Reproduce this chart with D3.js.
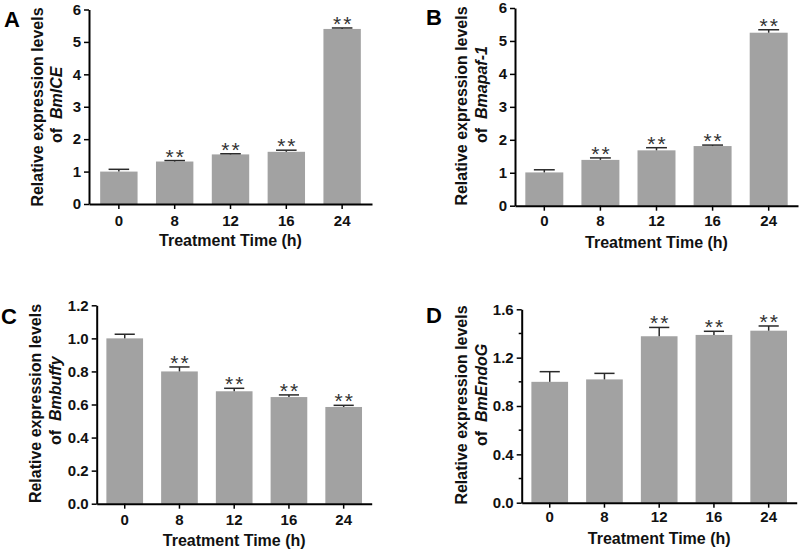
<!DOCTYPE html>
<html>
<head>
<meta charset="utf-8">
<script src="https://cdn.jsdelivr.net/npm/d3@7"></script>
<style>
  html, body { margin: 0; padding: 0; background: #fff; }
  svg { display: block; }
  text { font-family: "Liberation Sans", Arial, sans-serif; }
</style>
</head>
<body>
<svg id="chart" width="800" height="552"></svg>
<script>
// ---------------- DATA ----------------
const categories = ["0", "8", "12", "16", "24"];

const meanA = [1.00, 1.31, 1.53, 1.61, 5.40];
const errA  = [0.07, 0.03, 0.02, 0.05, 0.03];
const sigA  = [false, true, true, true, true];

const meanB = [1.01, 1.39, 1.68, 1.81, 5.25];
const errB  = [0.08, 0.06, 0.08, 0.03, 0.09];
const sigB  = [false, true, true, true, true];

const meanC = [1.00, 0.80, 0.68, 0.645, 0.585];
const errC  = [0.025, 0.027, 0.018, 0.013, 0.010];
const sigC  = [false, true, true, true, true];

const meanD = [1.00, 1.02, 1.377, 1.388, 1.423];
const errD  = [0.084, 0.050, 0.073, 0.030, 0.039];
const sigD  = [false, false, true, true, true];

const yTicksA = [0, 1, 2, 3, 4, 5, 6];
const yTicksB = [0, 1, 2, 3, 4, 5, 6];
const yTicksC = [0.0, 0.2, 0.4, 0.6, 0.8, 1.0, 1.2];
const yTicksD = [0.0, 0.4, 0.8, 1.2, 1.6];
const yMinorD = [0.2, 0.6, 1.0, 1.4];

const panelLetters = ["A", "B", "C", "D"];
const genes = ["BmICE", "Bmapaf-1", "Bmbuffy", "BmEndoG"];
const yTitleLine1 = "Relative expression levels";
const yTitlePrefix = "of  ";
const xTitle = "Treatment Time (h)";
const sigMark = "**";

// ---------------- LAYOUT ----------------
const panels = [
  { mean: meanA, err: errA, sig: sigA, ticks: yTicksA, minor: [], fmt: d3.format("d"),
    x0: 89, x1: 372, yBot: 204, yTop: 9.5, padIn: 0.33, padOut: 0.2,
    letterX: 4, letterY: 27, t1X: 43, t2X: 62, t1Y: 107, t2Y: 143,
    xLabY: 226, xTitleY: 246 },
  { mean: meanB, err: errB, sig: sigB, ticks: yTicksB, minor: [], fmt: d3.format("d"),
    x0: 515, x1: 798, yBot: 205.7, yTop: 8, padIn: 0.323, padOut: 0.184,
    letterX: 426, letterY: 25, t1X: 467, t2X: 487, t1Y: 106, t2Y: 143,
    xLabY: 226, xTitleY: 248 },
  { mean: meanC, err: errC, sig: sigC, ticks: yTicksC, minor: [], fmt: d3.format(".1f"),
    x0: 96.7, x1: 371.7, yBot: 503.7, yTop: 305.3, padIn: 0.33, padOut: 0.177,
    letterX: 1, letterY: 324, t1X: 40.5, t2X: 60.5, t1Y: 403.5, t2Y: 445,
    xLabY: 525, xTitleY: 546 },
  { mean: meanD, err: errD, sig: sigD, ticks: yTicksD, minor: yMinorD, fmt: d3.format(".1f"),
    x0: 521.7, x1: 796.7, yBot: 502.7, yTop: 309.3, padIn: 0.33, padOut: 0.177,
    letterX: 426, letterY: 323, t1X: 467, t2X: 487, t1Y: 405, t2Y: 446,
    xLabY: 522, xTitleY: 544 }
];

const svg = d3.select("#chart");
const barColor = "#a2a2a2";
const errColor = "#2a2a2a";

panels.forEach((p, i) => {
  const g = svg.append("g");
  const x = d3.scaleBand().domain(categories).range([p.x0, p.x1])
    .paddingInner(p.padIn).paddingOuter(p.padOut);
  const ymax = p.ticks[p.ticks.length - 1];
  const y = d3.scaleLinear().domain([0, ymax]).range([p.yBot, p.yTop]);

  const rows = categories.map((c, k) => ({ c, m: p.mean[k], e: p.err[k], s: p.sig[k] }));

  // bars
  g.selectAll("rect.bar").data(rows).enter().append("rect")
    .attr("class", "bar")
    .attr("x", d => x(d.c))
    .attr("width", x.bandwidth())
    .attr("y", d => y(d.m))
    .attr("height", d => y(0) - y(d.m))
    .attr("fill", barColor);

  // error bars (upper half)
  const capW = x.bandwidth() * 0.55;
  g.selectAll("line.err").data(rows).enter().append("line")
    .attr("x1", d => x(d.c) + x.bandwidth() / 2)
    .attr("x2", d => x(d.c) + x.bandwidth() / 2)
    .attr("y1", d => y(d.m))
    .attr("y2", d => y(d.m + d.e))
    .attr("stroke", errColor).attr("stroke-width", 1.5);
  g.selectAll("line.cap").data(rows).enter().append("line")
    .attr("x1", d => x(d.c) + x.bandwidth() / 2 - capW / 2)
    .attr("x2", d => x(d.c) + x.bandwidth() / 2 + capW / 2)
    .attr("y1", d => y(d.m + d.e))
    .attr("y2", d => y(d.m + d.e))
    .attr("stroke", errColor).attr("stroke-width", 1.5);

  // significance
  g.selectAll("text.sig").data(rows.filter(d => d.s)).enter().append("text")
    .attr("x", d => x(d.c) + x.bandwidth() / 2 + 1)
    .attr("y", d => y(d.m + d.e) + 3)
    .attr("text-anchor", "middle")
    .attr("font-size", 21)
    .attr("letter-spacing", 2)
    .attr("fill", "#333")
    .text(sigMark);

  // y axis
  const yAxis = d3.axisLeft(y).tickValues(p.ticks).tickFormat(p.fmt)
    .tickSize(5).tickSizeOuter(0).tickPadding(3);
  const ya = g.append("g").attr("transform", `translate(${p.x0},0)`).call(yAxis);
  ya.select(".domain").attr("stroke", "#000").attr("stroke-width", 2);
  ya.selectAll(".tick line").attr("stroke", "#000").attr("stroke-width", 1.5);
  ya.selectAll(".tick text").attr("font-size", 15).attr("font-weight", "bold")
    .attr("fill", "#111").style("font-family", "'Liberation Sans', Arial, sans-serif");

  if (p.minor.length) {
    g.selectAll("line.minor").data(p.minor).enter().append("line")
      .attr("x1", p.x0 - 3).attr("x2", p.x0)
      .attr("y1", d => y(d)).attr("y2", d => y(d))
      .attr("stroke", "#000").attr("stroke-width", 1.5);
  }

  // x axis
  const xAxis = d3.axisBottom(x).tickSize(5).tickSizeOuter(0).tickPadding(3);
  const xa = g.append("g").attr("transform", `translate(0,${p.yBot})`).call(xAxis);
  xa.select(".domain").attr("stroke", "#000").attr("stroke-width", 2);
  xa.selectAll(".tick line").attr("stroke", "#000").attr("stroke-width", 1.5);
  xa.selectAll(".tick text").attr("font-size", 15).attr("font-weight", "bold")
    .attr("fill", "#111").attr("dy", null)
    .attr("y", p.xLabY - p.yBot)
    .style("font-family", "'Liberation Sans', Arial, sans-serif");

  // x title
  g.append("text")
    .attr("x", (p.x0 + p.x1) / 2)
    .attr("y", p.xTitleY)
    .attr("text-anchor", "middle")
    .attr("font-size", 16).attr("font-weight", "bold").attr("fill", "#111")
    .text(xTitle);

  // y title
  g.append("text")
    .attr("transform", `translate(${p.t1X},${p.t1Y}) rotate(-90)`)
    .attr("text-anchor", "middle")
    .attr("font-size", 16).attr("font-weight", "bold").attr("fill", "#111")
    .text(yTitleLine1);
  const t2 = g.append("text")
    .attr("transform", `translate(${p.t2X},${p.t2Y}) rotate(-90)`)
    .attr("text-anchor", "start")
    .attr("font-size", 16).attr("font-weight", "bold").attr("fill", "#111")
    .attr("xml:space", "preserve");
  t2.append("tspan").text(yTitlePrefix);
  t2.append("tspan").attr("font-style", "italic").text(genes[i]);

  // panel letter
  g.append("text")
    .attr("x", p.letterX).attr("y", p.letterY)
    .attr("font-size", 22).attr("font-weight", "bold").attr("fill", "#000")
    .text(panelLetters[i]);
});
</script>
</body>
</html>
